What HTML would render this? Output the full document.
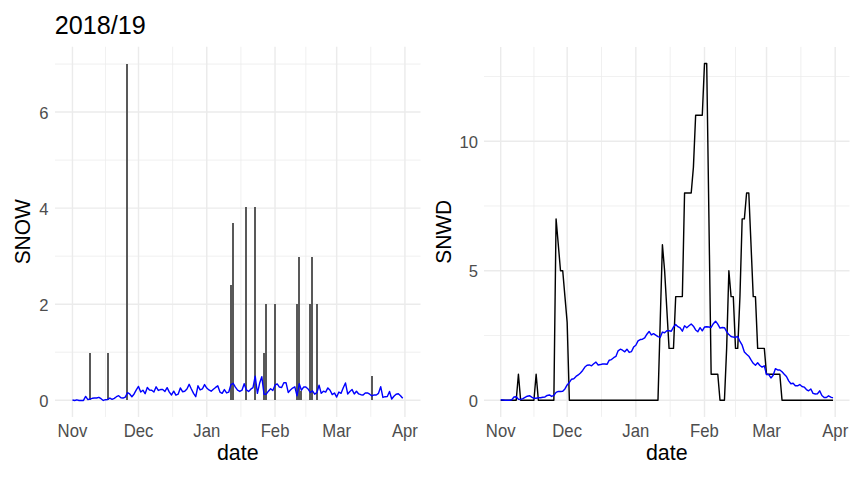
<!DOCTYPE html>
<html lang="en">
<head>
<meta charset="utf-8">
<title>2018/19</title>
<style>
html,body{margin:0;padding:0;background:#ffffff;}
body{width:864px;height:480px;overflow:hidden;font-family:"Liberation Sans",Arial,Helvetica,sans-serif;}
svg{display:block;}
</style>
</head>
<body>
<svg width="864" height="480" viewBox="0 0 864 480" font-family="'Liberation Sans', Arial, Helvetica, sans-serif">
<rect width="864" height="480" fill="#ffffff"/>
<g id="left-grid">
<line x1="55" x2="420.5" y1="352.18" y2="352.18" stroke="#ebebeb" stroke-width="0.75"/>
<line x1="55" x2="420.5" y1="256.14" y2="256.14" stroke="#ebebeb" stroke-width="0.75"/>
<line x1="55" x2="420.5" y1="160.1" y2="160.1" stroke="#ebebeb" stroke-width="0.75"/>
<line x1="55" x2="420.5" y1="64.06" y2="64.06" stroke="#ebebeb" stroke-width="0.75"/>
<line x1="105.48" x2="105.48" y1="46.8" y2="416.9" stroke="#ebebeb" stroke-width="0.75"/>
<line x1="172.63" x2="172.63" y1="46.8" y2="416.9" stroke="#ebebeb" stroke-width="0.75"/>
<line x1="240.89" x2="240.89" y1="46.8" y2="416.9" stroke="#ebebeb" stroke-width="0.75"/>
<line x1="305.84" x2="305.84" y1="46.8" y2="416.9" stroke="#ebebeb" stroke-width="0.75"/>
<line x1="370.79" x2="370.79" y1="46.8" y2="416.9" stroke="#ebebeb" stroke-width="0.75"/>
<line x1="55" x2="420.5" y1="400.2" y2="400.2" stroke="#ebebeb" stroke-width="1.45"/>
<line x1="55" x2="420.5" y1="304.16" y2="304.16" stroke="#ebebeb" stroke-width="1.45"/>
<line x1="55" x2="420.5" y1="208.12" y2="208.12" stroke="#ebebeb" stroke-width="1.45"/>
<line x1="55" x2="420.5" y1="112.08" y2="112.08" stroke="#ebebeb" stroke-width="1.45"/>
<line x1="72.45" x2="72.45" y1="46.8" y2="416.9" stroke="#ebebeb" stroke-width="1.45"/>
<line x1="138.5" x2="138.5" y1="46.8" y2="416.9" stroke="#ebebeb" stroke-width="1.45"/>
<line x1="206.76" x2="206.76" y1="46.8" y2="416.9" stroke="#ebebeb" stroke-width="1.45"/>
<line x1="275.02" x2="275.02" y1="46.8" y2="416.9" stroke="#ebebeb" stroke-width="1.45"/>
<line x1="336.67" x2="336.67" y1="46.8" y2="416.9" stroke="#ebebeb" stroke-width="1.45"/>
<line x1="404.92" x2="404.92" y1="46.8" y2="416.9" stroke="#ebebeb" stroke-width="1.45"/>
</g>
<g id="bars" fill="#595959">
<rect x="89" y="353" width="2" height="47"/>
<rect x="107" y="353" width="2" height="47"/>
<rect x="126" y="64" width="2" height="336"/>
<rect x="230" y="285" width="2" height="115"/>
<rect x="232" y="223" width="2" height="177"/>
<rect x="245" y="207" width="2" height="193"/>
<rect x="254" y="207" width="2" height="193"/>
<rect x="263" y="353" width="2" height="47"/>
<rect x="265" y="304" width="2" height="96"/>
<rect x="274" y="304" width="2" height="96"/>
<rect x="296" y="304" width="2" height="96"/>
<rect x="298" y="257" width="2" height="143"/>
<rect x="300" y="391" width="2" height="9"/>
<rect x="309" y="304" width="2" height="96"/>
<rect x="311" y="257" width="2" height="143"/>
<rect x="316" y="304" width="2" height="96"/>
<rect x="371" y="376" width="2" height="24"/>
</g>
<polyline points="72.45,399.95 74.65,400.45 76.85,399.82 79.06,400.45 81.26,400.45 83.46,400.45 85.66,396.45 87.86,399.57 90.06,398.95 92.27,398.32 94.47,397.95 96.67,397.95 98.87,397.32 101.07,398.7 103.28,400.45 105.48,399.7 107.68,399.45 109.88,398.07 112.08,399.32 114.28,398.32 116.49,396.7 118.69,395.7 120.89,397.7 123.09,398.07 125.29,397.07 127.5,392.7 129.7,393.95 131.9,396.7 134.1,393.95 136.3,389.95 138.5,386.44 140.71,392.07 142.91,390.2 145.11,393.7 147.31,387.44 149.51,389.95 151.71,390.2 153.92,392.07 156.12,386.82 158.32,390.45 160.52,389.57 162.72,389.57 164.93,391.45 167.13,387.69 169.33,392.07 171.53,394.95 173.73,391.2 175.93,395.2 178.14,394.2 180.34,387.94 182.54,391.7 184.74,391.2 186.94,388.95 189.15,384.32 191.35,388.95 193.55,393.32 195.75,396.7 197.95,385.82 200.15,389.95 202.36,388.95 204.56,384.57 206.76,388.07 208.96,389.95 211.16,391.2 213.37,389.2 215.57,387.44 217.77,385.82 219.97,392.07 222.17,393.32 224.37,389.57 226.58,392.95 228.78,392.07 230.98,384.57 233.18,383.32 235.38,387.07 237.58,390.2 239.79,391.45 241.99,390.2 244.19,383.69 246.39,389.95 248.59,391.45 250.8,389.2 253,387.69 255.2,376.19 257.4,393.32 259.6,383.32 261.8,376.69 264.01,394.2 266.21,394.2 268.41,391.2 270.61,388.7 272.81,390.45 275.02,385.19 277.22,383.94 279.42,387.07 281.62,387.44 283.82,382.69 286.02,382.69 288.23,392.45 290.43,389.95 292.63,388.07 294.83,386.82 297.03,395.82 299.24,383.69 301.44,390.2 303.64,387.07 305.84,387.07 308.04,388.95 310.24,392.45 312.45,390.82 314.65,394.2 316.85,392.7 319.05,385.19 321.25,393.32 323.46,391.2 325.66,392.07 327.86,387.94 330.06,390.2 332.26,394.57 334.46,392.95 336.67,397.07 338.87,392.07 341.07,393.32 343.27,387.69 345.47,382.94 347.68,393.95 349.88,391.45 352.08,389.57 354.28,393.95 356.48,391.2 358.68,393.95 360.89,394.7 363.09,394.95 365.29,392.95 367.49,392.95 369.69,394.2 371.89,395.82 374.1,394.95 376.3,394.95 378.5,393.32 380.7,386.69 382.9,397.45 385.11,396.7 387.31,396.45 389.51,391.45 391.71,398.95 393.91,396.2 396.11,394.2 398.32,393.7 400.52,395.82 402.72,398.32" fill="none" stroke="#0000ff" stroke-width="1.42" stroke-linejoin="round"/>
<g id="right-grid">
<line x1="484" x2="849.5" y1="335.45" y2="335.45" stroke="#ebebeb" stroke-width="0.75"/>
<line x1="484" x2="849.5" y1="205.95" y2="205.95" stroke="#ebebeb" stroke-width="0.75"/>
<line x1="484" x2="849.5" y1="76.45" y2="76.45" stroke="#ebebeb" stroke-width="0.75"/>
<line x1="533.93" x2="533.93" y1="46.9" y2="416.9" stroke="#ebebeb" stroke-width="0.75"/>
<line x1="601.49" x2="601.49" y1="46.9" y2="416.9" stroke="#ebebeb" stroke-width="0.75"/>
<line x1="670.16" x2="670.16" y1="46.9" y2="416.9" stroke="#ebebeb" stroke-width="0.75"/>
<line x1="735.51" x2="735.51" y1="46.9" y2="416.9" stroke="#ebebeb" stroke-width="0.75"/>
<line x1="800.86" x2="800.86" y1="46.9" y2="416.9" stroke="#ebebeb" stroke-width="0.75"/>
<line x1="484" x2="849.5" y1="400.2" y2="400.2" stroke="#ebebeb" stroke-width="1.45"/>
<line x1="484" x2="849.5" y1="270.7" y2="270.7" stroke="#ebebeb" stroke-width="1.45"/>
<line x1="484" x2="849.5" y1="141.2" y2="141.2" stroke="#ebebeb" stroke-width="1.45"/>
<line x1="500.7" x2="500.7" y1="46.9" y2="416.9" stroke="#ebebeb" stroke-width="1.45"/>
<line x1="567.16" x2="567.16" y1="46.9" y2="416.9" stroke="#ebebeb" stroke-width="1.45"/>
<line x1="635.83" x2="635.83" y1="46.9" y2="416.9" stroke="#ebebeb" stroke-width="1.45"/>
<line x1="704.5" x2="704.5" y1="46.9" y2="416.9" stroke="#ebebeb" stroke-width="1.45"/>
<line x1="766.52" x2="766.52" y1="46.9" y2="416.9" stroke="#ebebeb" stroke-width="1.45"/>
<line x1="835.2" x2="835.2" y1="46.9" y2="416.9" stroke="#ebebeb" stroke-width="1.45"/>
</g>
<polyline points="500.7,400.2 502.92,400.2 505.13,400.2 507.35,400.2 509.56,400.2 511.78,400.2 513.99,400.2 516.21,400.2 518.42,374.3 520.64,400.2 522.85,400.2 525.07,400.2 527.28,400.2 529.5,400.2 531.71,400.2 533.93,400.2 536.14,374.3 538.36,400.2 540.57,400.2 542.79,400.2 545,400.2 547.22,400.2 549.43,400.2 551.65,400.2 553.86,400.2 556.08,218.9 558.3,244.8 560.51,270.7 562.73,270.7 564.94,296.6 567.16,322.5 569.37,400.2 571.59,400.2 573.8,400.2 576.02,400.2 578.23,400.2 580.45,400.2 582.66,400.2 584.88,400.2 587.09,400.2 589.31,400.2 591.52,400.2 593.74,400.2 595.95,400.2 598.17,400.2 600.38,400.2 602.6,400.2 604.81,400.2 607.03,400.2 609.24,400.2 611.46,400.2 613.68,400.2 615.89,400.2 618.11,400.2 620.32,400.2 622.54,400.2 624.75,400.2 626.97,400.2 629.18,400.2 631.4,400.2 633.61,400.2 635.83,400.2 638.04,400.2 640.26,400.2 642.47,400.2 644.69,400.2 646.9,400.2 649.12,400.2 651.33,400.2 653.55,400.2 655.76,400.2 657.98,400.2 660.19,322.5 662.41,244.8 664.62,270.7 666.84,309.55 669.06,348.4 671.27,348.4 673.49,348.4 675.7,296.6 677.92,296.6 680.13,296.6 682.35,296.6 684.56,193 686.78,193 688.99,193 691.21,193 693.42,167.1 695.64,115.3 697.85,115.3 700.07,115.3 702.28,115.3 704.5,63.5 706.71,63.5 708.93,218.9 711.14,374.3 713.36,374.3 715.57,374.3 717.79,374.3 720,400.2 722.22,400.2 724.44,400.2 726.65,348.4 728.87,270.7 731.08,296.6 733.3,296.6 735.51,348.4 737.73,348.4 739.94,296.6 742.16,218.9 744.37,218.9 746.59,193 748.8,193 751.02,244.8 753.23,296.6 755.45,296.6 757.66,348.4 759.88,348.4 762.09,348.4 764.31,348.4 766.52,374.3 768.74,374.3 770.95,374.3 773.17,374.3 775.38,374.3 777.6,374.3 779.82,374.3 782.03,400.2 784.25,400.2 786.46,400.2 788.68,400.2 790.89,400.2 793.11,400.2 795.32,400.2 797.54,400.2 799.75,400.2 801.97,400.2 804.18,400.2 806.4,400.2 808.61,400.2 810.83,400.2 813.04,400.2 815.26,400.2 817.47,400.2 819.69,400.2 821.9,400.2 824.12,400.2 826.33,400.2 828.55,400.2 830.76,400.2 832.98,400.2" fill="none" stroke="#000000" stroke-width="1.42" stroke-linejoin="round"/>
<polyline points="500.7,399.7 502.92,399.95 505.13,400.2 507.35,400.2 509.56,400.2 511.78,399.7 513.99,397.07 516.21,396.7 518.42,399.2 520.64,399.45 522.85,398.7 525.07,397.45 527.28,396.2 529.5,395.7 531.71,397.2 533.93,398.32 536.14,398.2 538.36,397.7 540.57,397.7 542.79,397.2 545,396.95 547.22,395.45 549.43,394.95 551.65,396.45 553.86,395.45 556.08,392.45 558.3,391.45 560.51,391.45 562.73,391.2 564.94,388.95 567.16,384.95 569.37,382.45 571.59,379.2 573.8,378.7 576.02,376.45 578.23,374.95 580.45,372.95 582.66,370.45 584.88,367.07 587.09,365.2 589.31,364.95 591.52,365.82 593.74,363.7 595.95,362.07 598.17,364.95 600.38,364.57 602.6,363.95 604.81,363.95 607.03,364.32 609.24,360.2 611.46,359.57 613.68,357.7 615.89,356.45 618.11,350.82 620.32,349.2 622.54,350.2 624.75,351.82 626.97,349.2 629.18,352.45 631.4,351.7 633.61,347.07 635.83,345.2 638.04,340.82 640.26,339.57 642.47,339.2 644.69,337.95 646.9,334.2 649.12,331.45 651.33,334.95 653.55,333.7 655.76,335.2 657.98,336.7 660.19,337.45 662.41,332.07 664.62,332.7 666.84,330.82 669.06,330.82 671.27,331.2 673.49,327.07 675.7,324.57 677.92,326.7 680.13,327.95 682.35,331.2 684.56,325.82 686.78,327.7 688.99,325.82 691.21,323.95 693.42,326.2 695.64,329.95 697.85,331.7 700.07,327.7 702.28,330.82 704.5,327.07 706.71,326.7 708.93,327.07 711.14,327.45 713.36,323.7 715.57,321.2 717.79,324.2 720,328.07 722.22,327.45 724.44,327.7 726.65,331.7 728.87,334.57 731.08,336.45 733.3,337.07 735.51,337.45 737.73,336.45 739.94,341.45 742.16,345.2 744.37,352.07 746.59,354.2 748.8,356.2 751.02,359.95 753.23,363.32 755.45,365.2 757.66,362.7 759.88,365.45 762.09,367.07 764.31,365.82 766.52,374.57 768.74,374.57 770.95,377.95 773.17,375.2 775.38,368.7 777.6,369.95 779.82,369.95 782.03,371.7 784.25,374.2 786.46,376.45 788.68,380.82 790.89,383.7 793.11,383.32 795.32,385.82 797.54,385.82 799.75,384.57 801.97,386.45 804.18,387.07 806.4,389.57 808.61,390.82 810.83,388.95 813.04,393.32 815.26,393.95 817.47,393.7 819.69,390.82 821.9,395.45 824.12,397.45 826.33,397.45 828.55,395.82 830.76,397.07 832.98,397.95" fill="none" stroke="#0000ff" stroke-width="1.42" stroke-linejoin="round"/>
<g fill="#4d4d4d" font-size="17.5px">
<text transform="translate(72.45,436.9) scale(0.955,1)" text-anchor="middle">Nov</text>
<text transform="translate(138.5,436.9) scale(0.955,1)" text-anchor="middle">Dec</text>
<text transform="translate(206.76,436.9) scale(0.955,1)" text-anchor="middle">Jan</text>
<text transform="translate(275.02,436.9) scale(0.955,1)" text-anchor="middle">Feb</text>
<text transform="translate(336.67,436.9) scale(0.955,1)" text-anchor="middle">Mar</text>
<text transform="translate(404.92,436.9) scale(0.955,1)" text-anchor="middle">Apr</text>
<text transform="translate(500.7,436.9) scale(0.955,1)" text-anchor="middle">Nov</text>
<text transform="translate(567.16,436.9) scale(0.955,1)" text-anchor="middle">Dec</text>
<text transform="translate(635.83,436.9) scale(0.955,1)" text-anchor="middle">Jan</text>
<text transform="translate(704.5,436.9) scale(0.955,1)" text-anchor="middle">Feb</text>
<text transform="translate(766.52,436.9) scale(0.955,1)" text-anchor="middle">Mar</text>
<text transform="translate(835.2,436.9) scale(0.955,1)" text-anchor="middle">Apr</text>
<text x="48.6" y="406.9" font-size="16.6px" text-anchor="end">0</text>
<text x="48.6" y="310.86" font-size="16.6px" text-anchor="end">2</text>
<text x="48.6" y="214.82" font-size="16.6px" text-anchor="end">4</text>
<text x="48.6" y="118.78" font-size="16.6px" text-anchor="end">6</text>
<text x="477.9" y="406.8" font-size="16.6px" text-anchor="end">0</text>
<text x="477.9" y="277.3" font-size="16.6px" text-anchor="end">5</text>
<text x="477.9" y="147.8" font-size="16.6px" text-anchor="end">10</text>
</g>
<g fill="#000000" font-size="21.4px">
<text x="237.75" y="460.2" text-anchor="middle">date</text>
<text x="666.75" y="460.2" text-anchor="middle">date</text>
<text transform="translate(29.6,231.8) rotate(-90) scale(0.96,1)" font-size="21.8px" text-anchor="middle">SNOW</text>
<text transform="translate(450.5,231.8) rotate(-90) scale(0.96,1)" font-size="21.8px" text-anchor="middle">SNWD</text>
</g>
<text x="54.8" y="33.9" font-size="25.2px" fill="#000000">2018/19</text>
</svg>
</body>
</html>
